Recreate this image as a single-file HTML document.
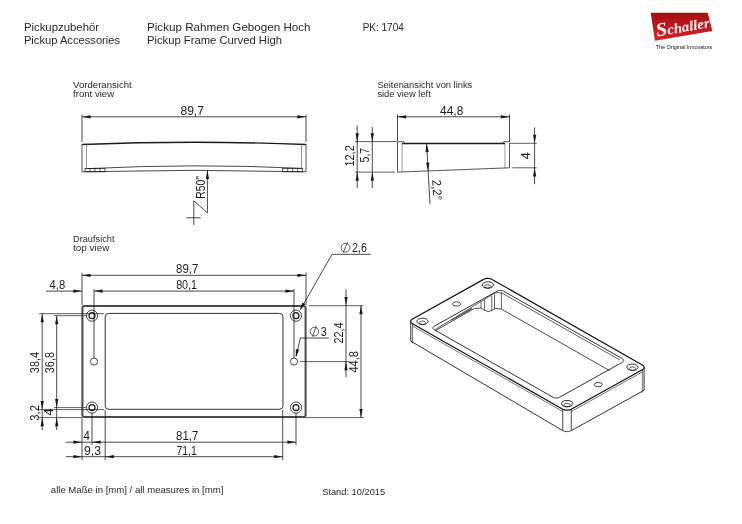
<!DOCTYPE html>
<html><head><meta charset="utf-8"><style>
html,body{margin:0;padding:0;background:#fff;}
svg{display:block;will-change:transform;}
text{font-family:"Liberation Sans",sans-serif;}
</style></head><body>
<svg width="742" height="524" viewBox="0 0 742 524">
<rect width="742" height="524" fill="#fff"/>
<text x="23.90" y="31.20" font-size="10.8" text-anchor="start" fill="#262626" textLength="75.2" lengthAdjust="spacingAndGlyphs">Pickupzubehör</text>
<text x="23.90" y="44.10" font-size="10.8" text-anchor="start" fill="#262626" textLength="96.2" lengthAdjust="spacingAndGlyphs">Pickup Accessories</text>
<text x="147.00" y="31.20" font-size="10.8" text-anchor="start" fill="#262626" textLength="163.6" lengthAdjust="spacingAndGlyphs">Pickup Rahmen Gebogen Hoch</text>
<text x="147.00" y="44.10" font-size="10.8" text-anchor="start" fill="#262626" textLength="134.9" lengthAdjust="spacingAndGlyphs">Pickup Frame Curved High</text>
<text x="362.70" y="30.60" font-size="10.2" text-anchor="start" fill="#262626" textLength="41.1" lengthAdjust="spacingAndGlyphs">PK: 1704</text>
<defs><linearGradient id="lg" x1="0" y1="0" x2="0" y2="1"><stop offset="0" stop-color="#a50d12"/><stop offset="1" stop-color="#d7242a"/></linearGradient></defs>
<polygon points="650.7,12.8 707.7,12.8 712.3,30.9 654.9,40.8" fill="url(#lg)"/>
<text x="657" y="36.5" fill="#fff" transform="rotate(-10 657 36.5)" style="font-family:Liberation Serif;font-style:italic;font-weight:bold" textLength="54" lengthAdjust="spacingAndGlyphs"><tspan font-size="19">S</tspan><tspan font-size="14">challer</tspan></text>
<text x="655.70" y="49.00" font-size="5.8" text-anchor="start" fill="#111111" textLength="56.6" lengthAdjust="spacingAndGlyphs">The Original Innovators</text>
<text x="73.10" y="87.90" font-size="8.4" text-anchor="start" fill="#262626" textLength="58.7" lengthAdjust="spacingAndGlyphs">Vorderansicht</text>
<text x="73.10" y="97.10" font-size="8.4" text-anchor="start" fill="#262626" textLength="41" lengthAdjust="spacingAndGlyphs">front view</text>
<text x="377.40" y="88.30" font-size="8.4" text-anchor="start" fill="#262626" textLength="94.9" lengthAdjust="spacingAndGlyphs">Seitenansicht von links</text>
<text x="377.40" y="97.20" font-size="8.4" text-anchor="start" fill="#262626" textLength="53.4" lengthAdjust="spacingAndGlyphs">side view left</text>
<text x="73.00" y="242.20" font-size="8.4" text-anchor="start" fill="#262626" textLength="41.5" lengthAdjust="spacingAndGlyphs">Draufsicht</text>
<text x="73.00" y="250.60" font-size="8.4" text-anchor="start" fill="#262626" textLength="36.3" lengthAdjust="spacingAndGlyphs">top view</text>
<text x="50.80" y="493.00" font-size="9.6" text-anchor="start" fill="#262626" textLength="172.5" lengthAdjust="spacingAndGlyphs">alle Maße in [mm] / all measures in [mm]</text>
<text x="322.20" y="494.80" font-size="9.6" text-anchor="start" fill="#262626" textLength="63" lengthAdjust="spacingAndGlyphs">Stand: 10/2015</text>
<line x1="82.00" y1="114.50" x2="82.00" y2="142.00" stroke="#1a1a1a" stroke-width="0.8"/>
<line x1="306.00" y1="114.50" x2="306.00" y2="142.00" stroke="#1a1a1a" stroke-width="0.8"/>
<line x1="82.00" y1="116.80" x2="306.00" y2="116.80" stroke="#1a1a1a" stroke-width="0.8"/>
<polygon points="82.00,116.80 90.60,115.15 90.60,118.45" fill="#1a1a1a"/>
<polygon points="306.00,116.80 297.40,118.45 297.40,115.15" fill="#1a1a1a"/>
<text x="192.20" y="115.00" font-size="12.1" text-anchor="middle" fill="#1a1a1a" textLength="23.5" lengthAdjust="spacingAndGlyphs">89,7</text>
<path d="M82,144.5 Q194,140 306,144.5" stroke="#1a1a1a" stroke-width="1.4" fill="none"/>
<line x1="82.00" y1="144.00" x2="82.00" y2="171.80" stroke="#555" stroke-width="1"/>
<line x1="306.00" y1="144.00" x2="306.00" y2="171.80" stroke="#555" stroke-width="1"/>
<line x1="86.50" y1="144.50" x2="86.50" y2="168.50" stroke="#777" stroke-width="0.8"/>
<line x1="301.50" y1="144.50" x2="301.50" y2="168.00" stroke="#777" stroke-width="0.8"/>
<path d="M82,171.8 Q194,168.8 306,171.8" stroke="#1a1a1a" stroke-width="0.8" fill="none"/>
<path d="M86.5,168.7 Q194,163.2 301.5,168.3" stroke="#1a1a1a" stroke-width="0.8" fill="none"/>
<rect x="85" y="168.5" width="20" height="3.3" fill="none" stroke="#1a1a1a" stroke-width="0.7"/>
<line x1="90.00" y1="168.50" x2="90.00" y2="171.80" stroke="#1a1a1a" stroke-width="0.7"/>
<line x1="95.00" y1="168.50" x2="95.00" y2="171.80" stroke="#1a1a1a" stroke-width="0.7"/>
<line x1="100.00" y1="168.50" x2="100.00" y2="171.80" stroke="#1a1a1a" stroke-width="0.7"/>
<rect x="282.7" y="168.5" width="20" height="3.3" fill="none" stroke="#1a1a1a" stroke-width="0.7"/>
<line x1="287.70" y1="168.50" x2="287.70" y2="171.80" stroke="#1a1a1a" stroke-width="0.7"/>
<line x1="292.70" y1="168.50" x2="292.70" y2="171.80" stroke="#1a1a1a" stroke-width="0.7"/>
<line x1="297.70" y1="168.50" x2="297.70" y2="171.80" stroke="#1a1a1a" stroke-width="0.7"/>
<line x1="207.40" y1="170.30" x2="207.40" y2="212.80" stroke="#1a1a1a" stroke-width="0.8"/>
<polygon points="207.40,170.30 209.05,178.90 205.75,178.90" fill="#1a1a1a"/>
<line x1="207.40" y1="212.80" x2="193.80" y2="200.80" stroke="#1a1a1a" stroke-width="0.8"/>
<line x1="193.80" y1="200.80" x2="193.80" y2="224.90" stroke="#1a1a1a" stroke-width="0.8"/>
<line x1="186.40" y1="217.80" x2="200.70" y2="217.80" stroke="#1a1a1a" stroke-width="0.8"/>
<text x="204.60" y="187.40" font-size="12" text-anchor="middle" fill="#1a1a1a" transform="rotate(-90 204.60 187.40)" textLength="22.8" lengthAdjust="spacingAndGlyphs">R50"</text>
<line x1="397.50" y1="114.30" x2="397.50" y2="141.00" stroke="#1a1a1a" stroke-width="0.8"/>
<line x1="509.50" y1="114.60" x2="509.50" y2="142.00" stroke="#1a1a1a" stroke-width="0.8"/>
<line x1="397.50" y1="116.80" x2="509.50" y2="116.80" stroke="#1a1a1a" stroke-width="0.8"/>
<polygon points="397.50,116.80 406.10,115.15 406.10,118.45" fill="#1a1a1a"/>
<polygon points="509.50,116.80 500.90,118.45 500.90,115.15" fill="#1a1a1a"/>
<text x="451.70" y="115.00" font-size="12.1" text-anchor="middle" fill="#1a1a1a" textLength="23.3" lengthAdjust="spacingAndGlyphs">44,8</text>
<line x1="397.50" y1="141.80" x2="397.50" y2="172.10" stroke="#555" stroke-width="1"/>
<line x1="402.10" y1="143.50" x2="402.10" y2="171.90" stroke="#888" stroke-width="0.8"/>
<line x1="509.50" y1="142.90" x2="509.50" y2="167.80" stroke="#555" stroke-width="1"/>
<line x1="504.90" y1="143.50" x2="504.90" y2="168.30" stroke="#888" stroke-width="0.8"/>
<path d="M397.5,141.8 L404,141.8 L404.5,143.2 L503,143.2 L503.5,141.8 L509.5,141.8" stroke="#1a1a1a" stroke-width="0.8" fill="none"/>
<line x1="402.00" y1="143.60" x2="505.00" y2="143.60" stroke="#1a1a1a" stroke-width="1.3"/>
<line x1="397.50" y1="172.10" x2="509.50" y2="167.80" stroke="#444" stroke-width="0.9"/>
<line x1="357.20" y1="125.50" x2="357.20" y2="188.00" stroke="#1a1a1a" stroke-width="0.8"/>
<line x1="372.30" y1="127.00" x2="372.30" y2="188.00" stroke="#1a1a1a" stroke-width="0.8"/>
<polygon points="357.20,141.80 355.55,133.20 358.85,133.20" fill="#1a1a1a"/>
<polygon points="357.20,172.10 358.85,180.70 355.55,180.70" fill="#1a1a1a"/>
<polygon points="372.30,141.80 370.65,133.20 373.95,133.20" fill="#1a1a1a"/>
<polygon points="372.30,172.10 373.95,180.70 370.65,180.70" fill="#1a1a1a"/>
<line x1="355.00" y1="141.60" x2="396.60" y2="141.60" stroke="#1a1a1a" stroke-width="0.7"/>
<line x1="355.00" y1="172.10" x2="395.00" y2="172.10" stroke="#1a1a1a" stroke-width="0.7"/>
<text x="354.10" y="155.90" font-size="12.6" text-anchor="middle" fill="#1a1a1a" transform="rotate(-90 354.10 155.90)" textLength="21.4" lengthAdjust="spacingAndGlyphs">12,2</text>
<text x="368.70" y="155.10" font-size="12.6" text-anchor="middle" fill="#1a1a1a" transform="rotate(-90 368.70 155.10)" textLength="14.6" lengthAdjust="spacingAndGlyphs">5,7</text>
<line x1="534.60" y1="127.50" x2="534.60" y2="184.10" stroke="#1a1a1a" stroke-width="0.8"/>
<polygon points="534.60,143.30 532.95,134.70 536.25,134.70" fill="#1a1a1a"/>
<polygon points="534.60,167.80 536.25,176.40 532.95,176.40" fill="#1a1a1a"/>
<line x1="510.00" y1="143.30" x2="536.70" y2="143.30" stroke="#1a1a1a" stroke-width="0.7"/>
<line x1="512.30" y1="167.80" x2="536.70" y2="167.80" stroke="#1a1a1a" stroke-width="0.7"/>
<text x="530.10" y="155.80" font-size="12.6" text-anchor="middle" fill="#1a1a1a" transform="rotate(-90 530.10 155.80)">4</text>
<line x1="426.60" y1="143.50" x2="430.00" y2="203.90" stroke="#1a1a1a" stroke-width="0.8"/>
<polygon points="426.60,143.50 428.74,151.99 425.44,152.18" fill="#1a1a1a"/>
<polygon points="428.20,171.30 426.06,162.81 429.36,162.62" fill="#1a1a1a"/>
<text x="432.80" y="190.20" font-size="12.6" text-anchor="middle" fill="#1a1a1a" transform="rotate(87 432.80 190.20)" textLength="20.6" lengthAdjust="spacingAndGlyphs">2,2°</text>
<rect x="82.4" y="306.1" width="223.2" height="110.8" rx="2" fill="none" stroke="#4a4a4a" stroke-width="2"/>
<rect x="105.2" y="313.4" width="177.8" height="95.9" rx="3.5" fill="none" stroke="#1a1a1a" stroke-width="0.9"/>
<circle cx="92.00" cy="315.70" r="5.60" stroke="#1a1a1a" stroke-width="0.8" fill="none"/>
<circle cx="92.00" cy="315.70" r="3.00" stroke="#1a1a1a" stroke-width="1.2" fill="none"/>
<circle cx="296.00" cy="315.70" r="5.60" stroke="#1a1a1a" stroke-width="0.8" fill="none"/>
<circle cx="296.00" cy="315.70" r="3.00" stroke="#1a1a1a" stroke-width="1.2" fill="none"/>
<circle cx="92.00" cy="407.60" r="5.60" stroke="#1a1a1a" stroke-width="0.8" fill="none"/>
<circle cx="92.00" cy="407.60" r="3.00" stroke="#1a1a1a" stroke-width="1.2" fill="none"/>
<circle cx="296.00" cy="407.60" r="5.60" stroke="#1a1a1a" stroke-width="0.8" fill="none"/>
<circle cx="296.00" cy="407.60" r="3.00" stroke="#1a1a1a" stroke-width="1.2" fill="none"/>
<circle cx="94.00" cy="361.60" r="3.60" stroke="#1a1a1a" stroke-width="0.8" fill="none"/>
<circle cx="294.00" cy="361.60" r="3.60" stroke="#1a1a1a" stroke-width="0.8" fill="none"/>
<line x1="82.00" y1="272.90" x2="82.00" y2="305.00" stroke="#1a1a1a" stroke-width="0.8"/>
<line x1="306.00" y1="272.50" x2="306.00" y2="305.00" stroke="#1a1a1a" stroke-width="0.8"/>
<line x1="82.00" y1="275.30" x2="306.00" y2="275.30" stroke="#1a1a1a" stroke-width="0.8"/>
<polygon points="82.00,275.30 90.60,273.65 90.60,276.95" fill="#1a1a1a"/>
<polygon points="306.00,275.30 297.40,276.95 297.40,273.65" fill="#1a1a1a"/>
<text x="187.20" y="273.20" font-size="12.1" text-anchor="middle" fill="#1a1a1a" textLength="22.2" lengthAdjust="spacingAndGlyphs">89,7</text>
<line x1="94.00" y1="289.00" x2="94.00" y2="358.00" stroke="#1a1a1a" stroke-width="0.8"/>
<line x1="294.00" y1="289.00" x2="294.00" y2="358.00" stroke="#1a1a1a" stroke-width="0.8"/>
<line x1="94.00" y1="291.10" x2="294.00" y2="291.10" stroke="#1a1a1a" stroke-width="0.8"/>
<polygon points="94.00,291.10 102.60,289.45 102.60,292.75" fill="#1a1a1a"/>
<polygon points="294.00,291.10 285.40,292.75 285.40,289.45" fill="#1a1a1a"/>
<text x="186.60" y="288.80" font-size="12.1" text-anchor="middle" fill="#1a1a1a" textLength="20.9" lengthAdjust="spacingAndGlyphs">80,1</text>
<line x1="45.80" y1="291.10" x2="82.00" y2="291.10" stroke="#1a1a1a" stroke-width="0.8"/>
<polygon points="82.00,291.10 73.40,292.75 73.40,289.45" fill="#1a1a1a"/>
<text x="57.40" y="289.20" font-size="12.1" text-anchor="middle" fill="#1a1a1a" textLength="15.6" lengthAdjust="spacingAndGlyphs">4,8</text>
<line x1="39.00" y1="313.70" x2="104.00" y2="313.70" stroke="#1a1a1a" stroke-width="0.7"/>
<line x1="54.00" y1="315.70" x2="87.00" y2="315.70" stroke="#1a1a1a" stroke-width="0.7"/>
<line x1="39.00" y1="409.60" x2="104.00" y2="409.60" stroke="#1a1a1a" stroke-width="0.7"/>
<line x1="54.00" y1="407.60" x2="87.00" y2="407.60" stroke="#1a1a1a" stroke-width="0.7"/>
<line x1="39.00" y1="417.60" x2="82.00" y2="417.60" stroke="#1a1a1a" stroke-width="0.7"/>
<line x1="42.20" y1="313.70" x2="42.20" y2="430.00" stroke="#1a1a1a" stroke-width="0.8"/>
<polygon points="42.20,313.70 43.85,322.30 40.55,322.30" fill="#1a1a1a"/>
<polygon points="42.20,409.60 40.55,401.00 43.85,401.00" fill="#1a1a1a"/>
<polygon points="42.20,417.60 43.85,426.20 40.55,426.20" fill="#1a1a1a"/>
<line x1="56.70" y1="315.70" x2="56.70" y2="430.00" stroke="#1a1a1a" stroke-width="0.8"/>
<polygon points="56.70,315.70 58.35,324.30 55.05,324.30" fill="#1a1a1a"/>
<polygon points="56.70,407.60 55.05,399.00 58.35,399.00" fill="#1a1a1a"/>
<polygon points="56.70,417.60 58.35,426.20 55.05,426.20" fill="#1a1a1a"/>
<text x="39.10" y="362.60" font-size="12.6" text-anchor="middle" fill="#1a1a1a" transform="rotate(-90 39.10 362.60)" textLength="21.1" lengthAdjust="spacingAndGlyphs">38,4</text>
<text x="54.50" y="362.60" font-size="12.6" text-anchor="middle" fill="#1a1a1a" transform="rotate(-90 54.50 362.60)" textLength="21.1" lengthAdjust="spacingAndGlyphs">36,8</text>
<text x="39.10" y="412.90" font-size="12.6" text-anchor="middle" fill="#1a1a1a" transform="rotate(-90 39.10 412.90)" textLength="15.5" lengthAdjust="spacingAndGlyphs">3,2</text>
<text x="53.40" y="412.00" font-size="12.6" text-anchor="middle" fill="#1a1a1a" transform="rotate(-90 53.40 412.00)">4</text>
<line x1="82.00" y1="418.00" x2="82.00" y2="460.00" stroke="#1a1a1a" stroke-width="0.8"/>
<line x1="92.00" y1="413.00" x2="92.00" y2="445.00" stroke="#1a1a1a" stroke-width="0.8"/>
<line x1="296.00" y1="413.00" x2="296.00" y2="445.00" stroke="#1a1a1a" stroke-width="0.8"/>
<line x1="65.80" y1="442.20" x2="296.00" y2="442.20" stroke="#1a1a1a" stroke-width="0.8"/>
<polygon points="82.00,442.20 73.40,443.85 73.40,440.55" fill="#1a1a1a"/>
<polygon points="92.00,442.20 100.60,440.55 100.60,443.85" fill="#1a1a1a"/>
<polygon points="296.00,442.20 287.40,443.85 287.40,440.55" fill="#1a1a1a"/>
<text x="187.20" y="440.20" font-size="12.1" text-anchor="middle" fill="#1a1a1a" textLength="22.2" lengthAdjust="spacingAndGlyphs">81,7</text>
<text x="86.70" y="440.20" font-size="12.1" text-anchor="middle" fill="#1a1a1a">4</text>
<line x1="105.20" y1="410.00" x2="105.20" y2="460.00" stroke="#1a1a1a" stroke-width="0.8"/>
<line x1="282.70" y1="410.00" x2="282.70" y2="460.00" stroke="#1a1a1a" stroke-width="0.8"/>
<line x1="65.80" y1="456.70" x2="282.70" y2="456.70" stroke="#1a1a1a" stroke-width="0.8"/>
<polygon points="82.00,456.70 73.40,458.35 73.40,455.05" fill="#1a1a1a"/>
<polygon points="105.20,456.70 113.80,455.05 113.80,458.35" fill="#1a1a1a"/>
<polygon points="282.70,456.70 274.10,458.35 274.10,455.05" fill="#1a1a1a"/>
<text x="186.60" y="455.30" font-size="12.1" text-anchor="middle" fill="#1a1a1a" textLength="20.3" lengthAdjust="spacingAndGlyphs">71,1</text>
<text x="92.50" y="454.80" font-size="12.1" text-anchor="middle" fill="#1a1a1a" textLength="17" lengthAdjust="spacingAndGlyphs">9,3</text>
<line x1="309.00" y1="305.70" x2="363.40" y2="305.70" stroke="#1a1a1a" stroke-width="0.7"/>
<line x1="304.80" y1="417.60" x2="363.90" y2="417.60" stroke="#1a1a1a" stroke-width="0.7"/>
<line x1="300.00" y1="361.60" x2="349.50" y2="361.60" stroke="#1a1a1a" stroke-width="0.7"/>
<line x1="361.00" y1="305.70" x2="361.00" y2="417.60" stroke="#1a1a1a" stroke-width="0.8"/>
<polygon points="361.00,305.70 362.65,314.30 359.35,314.30" fill="#1a1a1a"/>
<polygon points="361.00,417.60 359.35,409.00 362.65,409.00" fill="#1a1a1a"/>
<line x1="346.00" y1="289.30" x2="346.00" y2="377.20" stroke="#1a1a1a" stroke-width="0.8"/>
<polygon points="346.00,305.70 344.35,297.10 347.65,297.10" fill="#1a1a1a"/>
<polygon points="346.00,361.60 347.65,370.20 344.35,370.20" fill="#1a1a1a"/>
<text x="357.70" y="361.80" font-size="12.6" text-anchor="middle" fill="#1a1a1a" transform="rotate(-90 357.70 361.80)" textLength="21.4" lengthAdjust="spacingAndGlyphs">44,8</text>
<text x="342.50" y="333.00" font-size="12.6" text-anchor="middle" fill="#1a1a1a" transform="rotate(-90 342.50 333.00)" textLength="21.1" lengthAdjust="spacingAndGlyphs">22,4</text>
<line x1="332.00" y1="254.30" x2="370.80" y2="254.30" stroke="#1a1a1a" stroke-width="0.8"/>
<line x1="332.00" y1="254.30" x2="300.50" y2="309.50" stroke="#1a1a1a" stroke-width="0.8"/>
<polygon points="299.50,310.80 302.37,302.53 305.23,304.18" fill="#1a1a1a"/>
<circle cx="345.50" cy="247.70" r="4.40" stroke="#1a1a1a" stroke-width="0.7" fill="none"/>
<line x1="343.00" y1="252.90" x2="347.60" y2="242.20" stroke="#1a1a1a" stroke-width="0.7"/>
<text x="352.10" y="251.60" font-size="12.1" text-anchor="start" fill="#1a1a1a" textLength="15" lengthAdjust="spacingAndGlyphs">2,6</text>
<line x1="300.40" y1="338.00" x2="328.80" y2="338.00" stroke="#1a1a1a" stroke-width="0.8"/>
<line x1="300.40" y1="338.00" x2="296.20" y2="356.00" stroke="#1a1a1a" stroke-width="0.8"/>
<polygon points="295.80,357.80 295.87,349.04 299.10,349.69" fill="#1a1a1a"/>
<circle cx="314.40" cy="331.60" r="4.30" stroke="#1a1a1a" stroke-width="0.7" fill="none"/>
<line x1="312.40" y1="336.70" x2="316.40" y2="325.80" stroke="#1a1a1a" stroke-width="0.7"/>
<text x="320.80" y="335.60" font-size="12.1" text-anchor="start" fill="#1a1a1a" textLength="6" lengthAdjust="spacingAndGlyphs">3</text>
<path d="M562.76,409.19 L563.67,409.62 L564.71,409.94 L565.84,410.14 L567.01,410.21 L568.19,410.15 L569.31,409.96 L570.36,409.65 L571.27,409.24 L642.32,369.69 L643.07,369.18 L643.63,368.60 L643.97,367.96 L644.09,367.30 L643.98,366.64 L643.64,366.01 L643.08,365.42 L642.34,364.90 L492.12,279.42 L491.21,279.00 L490.18,278.68 L489.05,278.48 L487.87,278.41 L486.70,278.47 L485.57,278.65 L484.53,278.96 L483.62,279.38 L412.56,318.93 L411.81,319.44 L411.25,320.02 L410.91,320.65 L410.79,321.31 L410.91,321.97 L411.25,322.61 L411.80,323.20 L412.55,323.72 Z" stroke="#111" stroke-width="1.2" fill="none"/>
<line x1="410.79" y1="321.31" x2="410.79" y2="341.11" stroke="#1a1a1a" stroke-width="0.9"/>
<line x1="412.55" y1="323.72" x2="412.55" y2="343.52" stroke="#1a1a1a" stroke-width="0.6"/>
<line x1="562.76" y1="409.19" x2="562.76" y2="430.59" stroke="#1a1a1a" stroke-width="0.8"/>
<line x1="571.27" y1="409.24" x2="571.27" y2="430.64" stroke="#1a1a1a" stroke-width="0.8"/>
<line x1="644.09" y1="367.30" x2="644.09" y2="390.30" stroke="#1a1a1a" stroke-width="0.9"/>
<line x1="642.32" y1="369.69" x2="642.32" y2="392.69" stroke="#1a1a1a" stroke-width="0.6"/>
<path d="M412.55,326.02 L562.76,411.49" stroke="#1a1a1a" stroke-width="0.6" fill="none"/>
<path d="M571.27,411.54 L642.32,371.99" stroke="#1a1a1a" stroke-width="0.6" fill="none"/>
<path d="M410.79,341.11 L562.76,430.59 L562.76,430.59 L563.20,430.82 L563.67,431.02 L564.18,431.19 L564.71,431.34 L565.26,431.45 L565.84,431.54 L566.42,431.59 L567.01,431.61 L567.60,431.59 L568.19,431.55 L568.76,431.47 L569.31,431.36 L569.85,431.22 L570.36,431.05 L570.83,430.86 L571.27,430.64 L571.27,430.64 L644.09,390.30" stroke="#1a1a1a" stroke-width="0.9" fill="none"/>
<ellipse cx="422.48" cy="321.37" rx="5.60" ry="3.20" stroke="#1a1a1a" stroke-width="0.9" fill="none"/>
<ellipse cx="422.48" cy="322.77" rx="3.20" ry="1.70" stroke="#1a1a1a" stroke-width="0.7" fill="none"/>
<ellipse cx="567.03" cy="403.63" rx="5.60" ry="3.20" stroke="#1a1a1a" stroke-width="0.9" fill="none"/>
<ellipse cx="567.03" cy="405.03" rx="3.20" ry="1.70" stroke="#1a1a1a" stroke-width="0.7" fill="none"/>
<ellipse cx="632.40" cy="367.24" rx="5.60" ry="3.20" stroke="#1a1a1a" stroke-width="0.9" fill="none"/>
<ellipse cx="632.40" cy="368.64" rx="3.20" ry="1.70" stroke="#1a1a1a" stroke-width="0.7" fill="none"/>
<ellipse cx="487.85" cy="284.99" rx="5.60" ry="3.20" stroke="#1a1a1a" stroke-width="0.9" fill="none"/>
<ellipse cx="487.85" cy="286.39" rx="3.20" ry="1.70" stroke="#1a1a1a" stroke-width="0.7" fill="none"/>
<ellipse cx="456.58" cy="303.99" rx="4.00" ry="2.20" stroke="#1a1a1a" stroke-width="0.8" fill="none"/>
<ellipse cx="598.30" cy="384.63" rx="4.00" ry="2.20" stroke="#1a1a1a" stroke-width="0.8" fill="none"/>
<path d="M553.05,397.27 L553.73,397.59 L554.51,397.83 L555.36,397.98 L556.24,398.03 L557.12,397.99 L557.97,397.85 L558.75,397.62 L559.43,397.30 L622.31,362.30 L622.88,361.92 L623.30,361.48 L623.55,361.01 L623.64,360.51 L623.56,360.02 L623.30,359.54 L622.89,359.10 L622.33,358.71 L503.61,291.16 L502.92,290.84 L502.14,290.60 L501.30,290.45 L500.42,290.39 L499.54,290.44 L498.69,290.58 L497.91,290.81 L497.22,291.12 L434.34,326.12 L433.78,326.50 L433.36,326.94 L433.10,327.42 L433.02,327.91 L433.10,328.41 L433.36,328.89 L433.77,329.33 L434.33,329.71 Z" stroke="#1a1a1a" stroke-width="0.9" fill="none"/>
<path d="M435.2,329.6 L494.5,293.3 Q498.5,291.5 502.4,293.3 L620,360" stroke="#1a1a1a" stroke-width="0.7" fill="none"/>
<path d="M501.4,309.1 L609.5,370.5" stroke="#1a1a1a" stroke-width="0.8" fill="none"/>
<path d="M434.8,331 L474.6,308.4" stroke="#1a1a1a" stroke-width="0.8" fill="none"/>
<path d="M451,320.2 L472,308.6" stroke="#555" stroke-width="1.3" fill="none"/>
<line x1="481.10" y1="301.60" x2="481.10" y2="308.10" stroke="#1a1a1a" stroke-width="0.7"/>
<line x1="484.60" y1="300.20" x2="484.60" y2="310.20" stroke="#1a1a1a" stroke-width="0.7"/>
<line x1="491.80" y1="295.70" x2="491.80" y2="310.80" stroke="#1a1a1a" stroke-width="0.7"/>
<line x1="494.50" y1="294.40" x2="494.50" y2="309.10" stroke="#1a1a1a" stroke-width="0.7"/>
<line x1="501.40" y1="292.30" x2="501.40" y2="309.10" stroke="#1a1a1a" stroke-width="0.7"/>
<path d="M474.6,308.4 L481.1,308.1 Q484,310.8 488.4,311.5 Q492.5,311 495.2,308.4 L501.4,309.1" stroke="#1a1a1a" stroke-width="0.8" fill="none"/>
</svg>
</body></html>
